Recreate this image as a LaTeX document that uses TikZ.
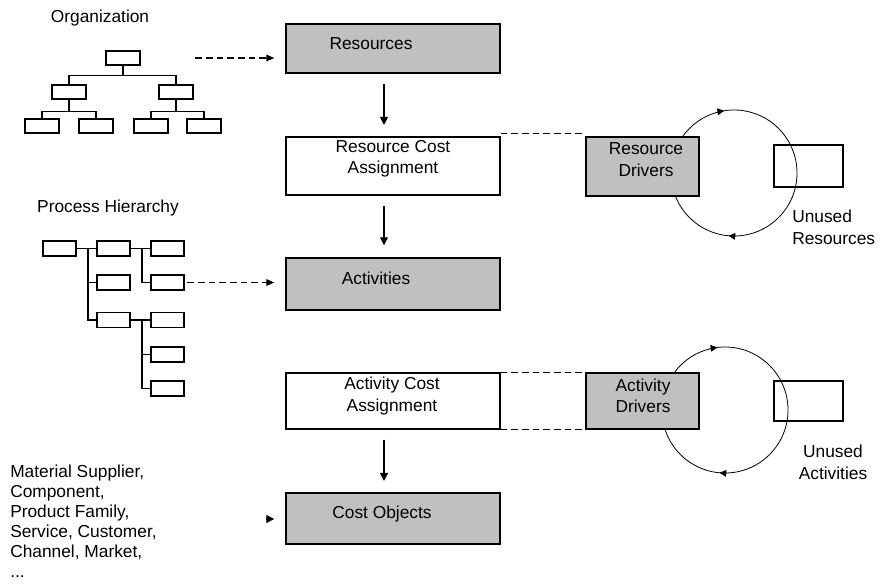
\documentclass[tikz,border=0pt]{standalone}
\usepackage{fontspec}
\setmainfont{Liberation Sans}
\usetikzlibrary{arrows.meta,calc}
\definecolor{boxgray}{HTML}{C0C0C0}
\tikzset{
  lbl/.style={font=\fontsize{13}{16}\selectfont, inner sep=0pt},
  gbox/.style={draw, fill=boxgray, line width=1.1pt, inner sep=0pt},
  wbox/.style={draw, fill=white, line width=1.1pt, inner sep=0pt},
  obox/.style={draw, line width=1pt, minimum width=25.5pt, minimum height=10.5pt, inner sep=0pt},
  pbox/.style={draw, line width=1pt, minimum width=24.75pt, minimum height=11.25pt, inner sep=0pt},
  tree/.style={line width=1pt},
  arr/.style={line width=0.9pt, -{Triangle[length=6pt,width=6pt]}},
  darr/.style={line width=0.9pt, dash pattern=on 5pt off 3pt, -{Triangle[length=6pt,width=5pt]}},
  dline/.style={line width=0.9pt, dash pattern=on 5pt off 3pt},
  cyc/.style={line width=0.6pt},
  cyctip/.style={line width=0.6pt, -{Triangle[length=5pt,width=5pt]}},
}
\begin{document}
\begin{tikzpicture}[x=0.75pt,y=-0.75pt]
\useasboundingbox (0,0) rectangle (880,587);

% ---------- Organization chart ----------
\node[lbl] (orgt) at (100,18) {Organization};
\node[obox] (o1) at (123,58) {};
\node[obox] (o2) at (69,92) {};
\node[obox] (o3) at (176,92) {};
\node[obox] (o4) at (42,126) {};
\node[obox] (o5) at (96,126) {};
\node[obox] (o6) at (151,126) {};
\node[obox] (o7) at (204,126) {};
\draw[tree] (o1.south) -- ++(0,10) -| (o2.north);
\draw[tree] (o1.south) -- ++(0,10) -| (o3.north);
\draw[tree] (o2.south) -- ++(0,12) -| (o4.north);
\draw[tree] (o2.south) -- ++(0,12) -| (o5.north);
\draw[tree] (o3.south) -- ++(0,12) -| (o6.north);
\draw[tree] (o3.south) -- ++(0,12) -| (o7.north);

% ---------- Process hierarchy ----------
\node[lbl] (proct) at (108,208) {Process Hierarchy};
\node[pbox] (pa) at (59.5,248.5) {};
\node[pbox] (pb1) at (113.5,248.5) {};
\node[pbox] (pb2) at (113.5,282.5) {};
\node[pbox] (pb3) at (113.5,320) {};
\node[pbox] (pc1) at (167.5,248.5) {};
\node[pbox] (pc2) at (167.5,282.5) {};
\node[pbox] (pc3) at (167.5,320) {};
\node[pbox] (pc4) at (167.5,354.5) {};
\node[pbox] (pc5) at (167.5,388.5) {};
\coordinate (j1) at (88,248.5);
\coordinate (j2) at (142,248.5);
\coordinate (j3) at (142,320);
\draw[tree] (pa.east) -- (pb1.west);
\draw[tree] (j1) |- (pb2.west);
\draw[tree] (j1) |- (pb3.west);
\draw[tree] (pb1.east) -- (pc1.west);
\draw[tree] (j2) |- (pc2.west);
\draw[tree] (pb3.east) -- (pc3.west);
\draw[tree] (j3) |- (pc4.west);
\draw[tree] (j3) |- (pc5.west);

% ---------- Central column ----------
\node[gbox, minimum width=160.5pt, minimum height=36.75pt] (res) at (393,48.5) {};
\node[lbl] (rest) at (371,44) {Resources};
\node[wbox, minimum width=160.5pt, minimum height=43.5pt] (rca) at (393,166) {};
\node[lbl, align=center] (rcat) at (393,159) {Resource Cost\\Assignment};
\node[gbox, minimum width=160.5pt, minimum height=39pt] (act) at (393,284) {};
\node[lbl] (actt) at (376,278) {Activities};
\node[wbox, minimum width=160.5pt, minimum height=42pt] (aca) at (393,401) {};
\node[lbl, align=center] (acat) at (392,396) {Activity Cost\\Assignment};
\node[gbox, minimum width=160.5pt, minimum height=38.25pt] (co) at (393,518.5) {};
\node[lbl] (cot) at (382,514) {Cost Objects};

\draw[arr, shorten <=8pt, shorten >=8.5pt] ([xshift=-6.75pt]res.south) -- ([xshift=-6.75pt]rca.north);
\draw[arr, shorten <=7.5pt, shorten >=9pt] ([xshift=-6.75pt]rca.south) -- ([xshift=-6.75pt]act.north);
\draw[arr, shorten <=7.5pt, shorten >=8.5pt] ([xshift=-6.75pt]aca.south) -- ([xshift=-6.75pt]co.north);

% dashed inputs
\draw[darr, shorten <=41pt, shorten >=8.25pt] (o1.east) -- (o1.east -| res.west);
\draw[darr, shorten <=2pt, shorten >=8.25pt] (pc2.east) -- (pc2.east -| act.west);
\coordinate (cotail) at (266,519);
\draw[arr, shorten >=8.25pt] (cotail) -- (cotail -| co.west);

% ---------- Resource drivers cycle ----------
\coordinate (c1) at (734,173);
\draw[cyc] (c1) circle[radius=63];
\draw[cyctip] ($(c1)+(-106:63)$) arc[start angle=-106, end angle=-99, radius=63];
\draw[cyctip] ($(c1)+(88:63)$) arc[start angle=88, end angle=95, radius=63];
\node[gbox, minimum width=84.75pt, minimum height=44.25pt] (rd) at (642.5,166.5) {};
\node[lbl, align=center] (rdt) at (646,159.5) {Resource\\Drivers};
\node[draw, line width=0.9pt, minimum width=51.75pt, minimum height=31.5pt, inner sep=0pt] (ur) at (808.5,166) {};
\node[lbl, align=left, anchor=north west] (urt) at (792,210) {Unused\\Resources};
\draw[dline] ([yshift=2pt]rca.north east) -- ([yshift=2pt]rd.north west);

% ---------- Activity drivers cycle ----------
\coordinate (c2) at (725,410);
\draw[cyc] (c2) circle[radius=63];
\draw[cyctip] ($(c2)+(-104:63)$) arc[start angle=-104, end angle=-97, radius=63];
\draw[cyctip] ($(c2)+(88:63)$) arc[start angle=88, end angle=95, radius=63];
\node[gbox, minimum width=84.75pt, minimum height=42pt] (ad) at (642.5,401) {};
\node[lbl, align=center] (adt) at (643,395.5) {Activity\\Drivers};
\node[draw, line width=0.9pt, minimum width=51.75pt, minimum height=30pt, inner sep=0pt] (ua) at (808.5,401) {};
\node[lbl, align=center, anchor=north] (uat) at (833,445) {Unused\\Activities};
\draw[dline] (aca.north east) -- (ad.north west);
\draw[dline] (aca.south east) -- (ad.south west);

% ---------- Cost object list ----------
\node[lbl, align=left, anchor=north west, font=\fontsize{13}{15}\selectfont] (list) at (10,465)
  {Material Supplier,\\Component,\\Product Family,\\Service, Customer,\\Channel, Market,\\...};
\end{tikzpicture}
\end{document}
